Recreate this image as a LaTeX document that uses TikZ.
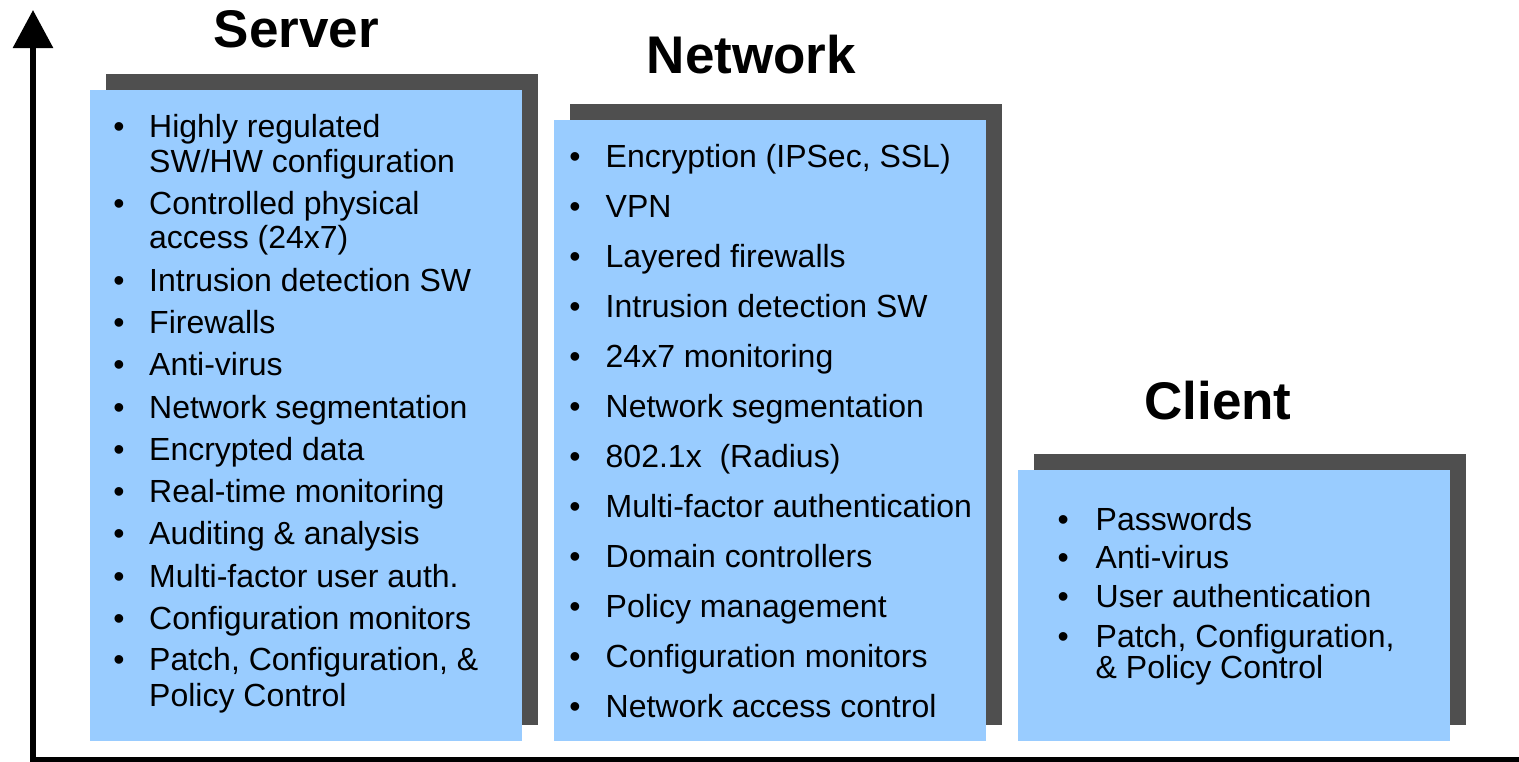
\documentclass[tikz,border=0pt]{standalone}
\usepackage{fontspec}
\setmainfont{Liberation Sans}
\usetikzlibrary{arrows.meta}

\definecolor{panelblue}{HTML}{99CCFF}
\definecolor{panelshade}{HTML}{4F4F4F}

\begin{document}
\begin{tikzpicture}[x=1pt, y=-1pt,
  panel/.style={fill=panelblue, draw=none, anchor=north west, inner sep=0pt, minimum width=432pt},
  shade/.style={fill=panelshade, draw=none, anchor=north west, inner sep=0pt, minimum width=432pt},
  txt/.style={anchor=base west, inner sep=0pt, font=\fontsize{32}{38}\selectfont},
  bul/.style={anchor=base, inner sep=0pt, font=\fontsize{32}{38}\selectfont},
  title/.style={anchor=base, inner sep=0pt, font=\fontsize{53}{60}\selectfont\bfseries},
  axis/.style={line width=6pt, black}]

% canvas
\useasboundingbox (0,0) rectangle (1519,761);

% axes
\draw[axis] (30,760) -- (1519,760);
\draw[axis, -{Triangle[length=38pt, width=39pt]}] (33,761) -- (33,10);

% panels with drop shadows
\node[shade, minimum height=651pt] (srvshade) at (106,74) {};
\node[panel, minimum height=651pt] (srvbox) at (90,90) {};
\node[shade, minimum height=621pt] (netshade) at (570,104) {};
\node[panel, minimum height=621pt] (netbox) at (554,120) {};
\node[shade, minimum height=271pt] (clishade) at (1034,454) {};
\node[panel, minimum height=271pt] (clibox) at (1018,470) {};

% titles
\node[title] (srvtitle) at (296.5,47) {Server};
\node[title] (nettitle) at (751.5,73.3) {Network};
\node[title] (clititle) at (1218,419.3) {Client};

% server list
\node[bul] (s1b) at (119,137.5) {•};   \node[txt] (s1) at (149,137.5) {Highly regulated};
                                       \node[txt] (s1c) at (149,172) {SW/HW configuration};
\node[bul] (s2b) at (119,214.3) {•}; \node[txt] (s2) at (149,214.3) {Controlled physical};
                                     \node[txt] (s2c) at (149,248.8) {access (24x7)};
\node[bul] (s3b) at (119,291.1) {•}; \node[txt] (s3) at (149,291.1) {Intrusion detection SW};
\node[bul] (s4b) at (119,333.4) {•}; \node[txt] (s4) at (149,333.4) {Firewalls};
\node[bul] (s5b) at (119,375.7) {•}; \node[txt] (s5) at (149,375.7) {Anti-virus};
\node[bul] (s6b) at (119,418) {•};   \node[txt] (s6) at (149,418) {Network segmentation};
\node[bul] (s7b) at (119,460.3) {•}; \node[txt] (s7) at (149,460.3) {Encrypted data};
\node[bul] (s8b) at (119,502.6) {•}; \node[txt] (s8) at (149,502.6) {Real-time monitoring};
\node[bul] (s9b) at (119,544.9) {•}; \node[txt] (s9) at (149,544.9) {Auditing \& analysis};
\node[bul] (s10b) at (119,587.2) {•}; \node[txt] (s10) at (149,587.2) {Multi-factor user auth.};
\node[bul] (s11b) at (119,629.5) {•}; \node[txt] (s11) at (149,629.5) {Configuration monitors};
\node[bul] (s12b) at (119,670.5) {•}; \node[txt] (s12) at (149,670.5) {Patch, Configuration, \&};
                                      \node[txt] (s12c) at (149,706.5) {Policy Control};

% network list
\node[bul] (n1b) at (575,167.5) {•};  \node[txt] (n1) at (605.5,167.5) {Encryption (IPSec, SSL)};
\node[bul] (n2b) at (575,217.5) {•};  \node[txt] (n2) at (605.5,217.5) {VPN};
\node[bul] (n3b) at (575,267.5) {•};  \node[txt] (n3) at (605.5,267.5) {Layered firewalls};
\node[bul] (n4b) at (575,317.5) {•};  \node[txt] (n4) at (605.5,317.5) {Intrusion detection SW};
\node[bul] (n5b) at (575,367.5) {•};  \node[txt] (n5) at (605.5,367.5) {24x7 monitoring};
\node[bul] (n6b) at (575,417.5) {•};  \node[txt] (n6) at (605.5,417.5) {Network segmentation};
\node[bul] (n7b) at (575,467.5) {•};  \node[txt] (n7) at (605.5,467.5) {802.1x\ \ (Radius)};
\node[bul] (n8b) at (575,517.5) {•};  \node[txt] (n8) at (605.5,517.5) {Multi-factor authentication};
\node[bul] (n9b) at (575,567.5) {•};  \node[txt] (n9) at (605.5,567.5) {Domain controllers};
\node[bul] (n10b) at (575,617.5) {•}; \node[txt] (n10) at (605.5,617.5) {Policy management};
\node[bul] (n11b) at (575,667.5) {•}; \node[txt] (n11) at (605.5,667.5) {Configuration monitors};
\node[bul] (n12b) at (575,717.5) {•}; \node[txt] (n12) at (605.5,717.5) {Network access control};

% client list
\node[bul] (c1b) at (1063.3,530.5) {•};   \node[txt] (c1) at (1095.5,530.5) {Passwords};
\node[bul] (c2b) at (1063.3,568.2) {•};   \node[txt] (c2) at (1095.5,568.2) {Anti-virus};
\node[bul] (c3b) at (1063.3,607.2) {•};   \node[txt] (c3) at (1095.5,607.2) {User authentication};
\node[bul] (c4b) at (1063.3,647.2) {•};   \node[txt] (c4) at (1095.5,647.2) {Patch, Configuration,};
                                          \node[txt] (c4c) at (1095.5,678.8) {\& Policy Control};
\end{tikzpicture}
\end{document}
